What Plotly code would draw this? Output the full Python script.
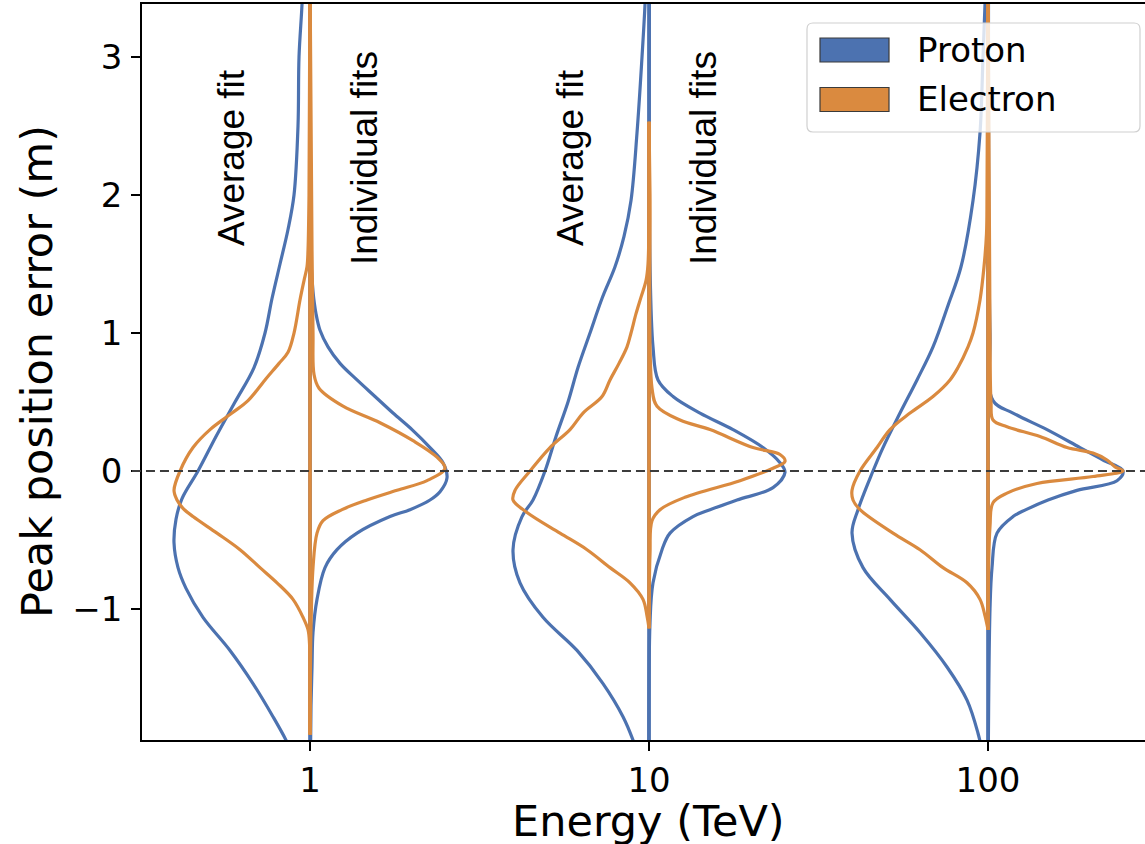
import numpy as np
import plotly.graph_objects as go

# ---------------------------------------------------------------------------
# Data: kernel-density outlines of the peak position error (m) per energy.
# Each half violin is sampled along the error axis (y) with its density in
# arbitrary units (d). Left halves: average fit, right halves: individual fits.
# ---------------------------------------------------------------------------
energies = [1, 10, 100]
tick_labels = ["1", "10", "100"]
species = ["Proton", "Electron"]

# --- 1 TeV ---
p_avg_1_y = [3.6, 3.38, 3.0, 2.5, 2.0, 1.75, 1.5, 1.25, 1.0, 0.75, 0.5, 0.25, 0.0, -0.2, -0.35,
             -0.52, -0.7, -0.85, -1.06, -1.3, -1.54, -1.78, -1.95, -2.2, -2.4]
p_avg_1_d = [7, 8, 11, 12, 16, 22, 30, 38, 45, 56, 75, 94, 112, 128, 134,
             136, 132, 124, 107, 80, 57, 37, 24, 8, 0]
p_ind_1_y = [3.6, 1.53, 1.3, 1.14, 1.02, 0.9, 0.78, 0.66, 0.54, 0.42, 0.3, 0.17, 0.06, -0.05, -0.15,
             -0.21, -0.28, -0.33, -0.45, -0.57, -0.7, -0.93, -1.17, -1.42, -1.7, -2.4]
p_ind_1_d = [0.5, 1, 3, 6, 10, 18, 30, 47, 65, 83, 102, 120, 133, 137, 130,
             120, 100, 80, 47, 27, 15, 7, 3, 2, 1, 0]
e_avg_1_y = [3.6, 2.0, 1.6, 1.48, 1.38, 1.24, 1.0, 0.86, 0.78, 0.66, 0.51, 0.42, 0.3,
             0.17, 0.0, -0.14, -0.21, -0.27, -0.33, -0.45, -0.57, -0.7, -0.81, -0.93, -1.06, -1.15,
             -1.25, -1.91]
e_avg_1_d = [0, 1, 2, 3, 6, 10, 16, 22, 31, 45, 62, 78, 100,
             117, 130, 136, 133, 127, 117, 93, 70, 50, 33, 17, 7, 2,
             0.5, 0]
e_ind_1_y = [3.6, 1.6, 1.0, 0.7, 0.6, 0.47, 0.35, 0.22, 0.1, 0.02, -0.07, -0.14, -0.21, -0.28,
             -0.36, -0.45, -0.7, -1.13, -1.91]
e_ind_1_d = [0, 2, 3, 4, 9, 33, 70, 103, 127, 135, 117, 87, 57, 32,
             13, 7, 3, 1, 0]

# --- 10 TeV ---
p_avg_10_y = [3.6, 3.38, 3.0, 2.45, 1.96, 1.7, 1.48, 1.25, 1.0, 0.75, 0.5, 0.25, 0.0, -0.21,
              -0.33, -0.57, -0.81, -1.06, -1.3, -1.54, -1.78, -1.95, -2.2, -2.4]
p_avg_10_d = [3, 4, 7, 12, 18, 25, 34, 47, 59, 71, 81, 93, 104, 116,
              127, 136, 129, 106, 72, 46, 26, 16, 5, 0]
p_ind_10_y = [3.6, 1.5, 0.9, 0.66, 0.54, 0.42, 0.3, 0.17, 0.06, -0.01, -0.12, -0.21, -0.28, -0.33,
              -0.45, -0.57, -0.81, -1.1, -2.4]
p_ind_10_d = [0.5, 1, 4, 9, 24, 51, 84, 114, 131, 136, 124, 88, 61, 44,
              21, 13, 4, 1, 0]
e_avg_10_y = [2.53, 1.5, 1.38, 1.26, 1.14, 1.0, 0.9, 0.78, 0.66, 0.54, 0.42, 0.3, 0.17, 0.0, -0.14,
              -0.21, -0.3, -0.45, -0.57, -0.7, -0.81, -0.93, -1.05, -1.14]
e_avg_10_d = [0, 1, 3, 8, 13, 18, 22, 30, 39, 47, 66, 79, 99, 119, 134,
              136, 122, 89, 62, 39, 19, 6, 2, 0]
e_ind_10_y = [2.53, 2.0, 0.6, 0.47, 0.37, 0.3, 0.17, 0.12, 0.07, 0.02, -0.07, -0.19, -0.28, -0.36,
              -0.6, -1.14]
e_ind_10_d = [0, 1, 3, 8, 31, 61, 104, 131, 136, 124, 91, 36, 11, 3,
              1, 0]

# --- 100 TeV ---
p_avg_100_y = [3.6, 3.38, 3.0, 2.45, 1.96, 1.48, 1.2, 0.9, 0.66, 0.42, 0.17, 0.0, -0.28,
               -0.45, -0.7, -0.93, -1.17, -1.42, -1.66, -1.9, -2.1, -2.3]
p_avg_100_d = [2, 3, 5, 8, 15, 27, 40, 55, 71, 88, 105, 115, 130,
               136, 125, 98, 68, 41, 21, 10, 4, 0]
p_ind_100_y = [3.6, 1.0, 0.51, 0.42, 0.3, 0.17, 0.08, 0.0, -0.07, -0.14, -0.21, -0.28, -0.33,
               -0.45, -0.7, -1.0, -2.4]
p_ind_100_d = [0.5, 2, 5, 25, 59, 92, 115, 135, 129, 89, 60, 38, 25,
               9, 4, 2, 0]
e_avg_100_y = [3.6, 2.0, 1.72, 1.48, 1.24, 1.0, 0.9, 0.75, 0.66, 0.54, 0.42, 0.3, 0.17,
               0.0, -0.14, -0.21, -0.28, -0.45, -0.57, -0.7, -0.81, -0.93, -1.05, -1.15]
e_avg_100_d = [0, 1, 1.5, 4, 8, 15, 20, 30, 38, 55, 78, 98, 111,
               128, 136, 135, 128, 95, 68, 45, 21, 8, 3, 0]
e_ind_100_y = [3.6, 1.0, 0.5, 0.37, 0.32, 0.25, 0.17, 0.13, 0.08, 0.03, 0.0, -0.04, -0.09, -0.16,
               -0.23, -0.4, -1.15]
e_ind_100_d = [0, 2, 3, 5, 19, 52, 79, 105, 119, 127, 135, 105, 49, 19,
               5, 2, 0]

# (species, energy, side, y, density)
halves = [
    ("Proton", 1, "left", p_avg_1_y, p_avg_1_d),
    ("Proton", 1, "right", p_ind_1_y, p_ind_1_d),
    ("Proton", 10, "left", p_avg_10_y, p_avg_10_d),
    ("Proton", 10, "right", p_ind_10_y, p_ind_10_d),
    ("Proton", 100, "left", p_avg_100_y, p_avg_100_d),
    ("Proton", 100, "right", p_ind_100_y, p_ind_100_d),
    ("Electron", 1, "left", e_avg_1_y, e_avg_1_d),
    ("Electron", 1, "right", e_ind_1_y, e_ind_1_d),
    ("Electron", 10, "left", e_avg_10_y, e_avg_10_d),
    ("Electron", 10, "right", e_ind_10_y, e_ind_10_d),
    ("Electron", 100, "left", e_avg_100_y, e_avg_100_d),
    ("Electron", 100, "right", e_ind_100_y, e_ind_100_d),
]

# ---------------------------------------------------------------------------
# Styling
# ---------------------------------------------------------------------------
COLORS = {"Proton": "#4C72B0", "Electron": "#DA8A3F"}
WIDTH_SCALE = 1 / 339.0          # decades of energy per density unit
LINE_W = 3.2
W, H = 1145, 844
M_L, M_R, M_T, M_B = 142, 0, 4, 104
PLOT_W = W - M_L - M_R
PLOT_H = H - M_T - M_B
TICK_FONT = dict(family="DejaVu Sans", size=34, color="black")
LABEL_FONT = dict(family="DejaVu Sans", size=43, color="black")
NOTE_FONT = dict(family="Liberation Sans, Arial", size=37, color="black")


def paper(px, py):
    """Pixel position on the page -> paper coordinates of the plot area."""
    return (px - M_L) / PLOT_W, (M_T + PLOT_H - py) / PLOT_H


fig = go.Figure()

for name in species:
    for sp, energy, side, ys, ds in halves:
        if sp != name:
            continue
        sign = -1.0 if side == "left" else 1.0
        logc = np.log10(energy)
        xs = 10 ** (logc + sign * np.asarray(ds, dtype=float) * WIDTH_SCALE)
        # outline of the half violin
        fig.add_trace(go.Scatter(
            x=xs, y=ys, mode="lines",
            line=dict(color=COLORS[name], width=LINE_W, shape="spline", smoothing=1.0),
            hoverinfo="skip", showlegend=False,
        ))
        # the half closes along the violin's centre line
        fig.add_trace(go.Scatter(
            x=[energy, energy], y=[min(ys), max(ys)], mode="lines",
            line=dict(color=COLORS[name], width=LINE_W),
            hoverinfo="skip", showlegend=False,
        ))

# side labels above the first two energies
notes = []
for energy in energies[:2]:
    logc = np.log10(energy)
    notes.append(dict(x=logc - 0.232, y=2.27, xref="x", yref="y", text="Average fit",
                      textangle=-90, showarrow=False, font=NOTE_FONT,
                      xanchor="center", yanchor="middle"))
    notes.append(dict(x=logc + 0.160, y=2.27, xref="x", yref="y", text="Individual fits",
                      textangle=-90, showarrow=False, font=NOTE_FONT,
                      xanchor="center", yanchor="middle"))

# axis titles
tx, ty = paper(648, 821)
notes.append(dict(x=tx, y=ty, xref="paper", yref="paper", text="Energy (TeV)",
                  showarrow=False, font=LABEL_FONT, xanchor="center", yanchor="middle"))
tx, ty = paper(37, 372)
notes.append(dict(x=tx, y=ty, xref="paper", yref="paper", text="Peak position error (m)",
                  textangle=-90, showarrow=False, font=LABEL_FONT,
                  xanchor="center", yanchor="middle"))

# legend drawn as patches + labels
shapes = []
bx0, by0 = paper(807, 132)
bx1, by1 = paper(1140, 23)
rx, ry = 6 / PLOT_W, 6 / PLOT_H
box_path = (f"M {bx0 + rx},{by1} L {bx1 - rx},{by1} Q {bx1},{by1} {bx1},{by1 - ry} "
            f"L {bx1},{by0 + ry} Q {bx1},{by0} {bx1 - rx},{by0} "
            f"L {bx0 + rx},{by0} Q {bx0},{by0} {bx0},{by0 + ry} "
            f"L {bx0},{by1 - ry} Q {bx0},{by1} {bx0 + rx},{by1} Z")
shapes.append(dict(type="path", path=box_path, xref="paper", yref="paper",
                   fillcolor="rgba(255,255,255,0.8)", line=dict(color="#d0d0d0", width=1.2),
                   layer="above"))
for i, name in enumerate(species):
    top = 38 + 49.5 * i
    px0, py0 = paper(820, top + 24)
    px1, py1 = paper(889, top)
    shapes.append(dict(type="rect", xref="paper", yref="paper", x0=px0, x1=px1, y0=py0, y1=py1,
                       fillcolor=COLORS[name], line=dict(color="#3a3a3a", width=1.2),
                       layer="above"))
    lx, ly = paper(915, top + 12)
    notes.append(dict(x=lx, y=ly, xref="paper", yref="paper", text=name, showarrow=False,
                      font=dict(family="DejaVu Sans", size=34, color="black"),
                      xanchor="left", yanchor="middle"))

# dashed reference line at zero error
shapes.append(dict(type="line", xref="paper", yref="y", x0=-0.01, x1=1, y0=0, y1=0,
                   line=dict(color="#3c3c3c", width=2, dash="9px,5px"), layer="above"))

fig.update_layout(
    width=W, height=H,
    margin=dict(l=M_L, r=M_R, t=M_T, b=M_B),
    paper_bgcolor="white", plot_bgcolor="white",
    showlegend=False,
    shapes=shapes,
    annotations=notes,
    xaxis=dict(
        type="log", range=[-0.4956, 2.4631],
        tickvals=energies, ticktext=tick_labels,
        ticks="outside", ticklen=9, tickwidth=1.5, tickcolor="black",
        showline=True, linecolor="black", linewidth=1.5, mirror=True,
        showgrid=False, zeroline=False, tickfont=TICK_FONT, ticklabelstandoff=0,
    ),
    yaxis=dict(
        range=[-1.949, 3.384],
        tickvals=[-1, 0, 1, 2, 3],
        ticks="outside", ticklen=9, tickwidth=1.5, tickcolor="black",
        showline=True, linecolor="black", linewidth=1.5, mirror=False,
        showgrid=False, zeroline=False, tickfont=TICK_FONT, ticklabelstandoff=2,
    ),
)

fig.write_html("out.html")
